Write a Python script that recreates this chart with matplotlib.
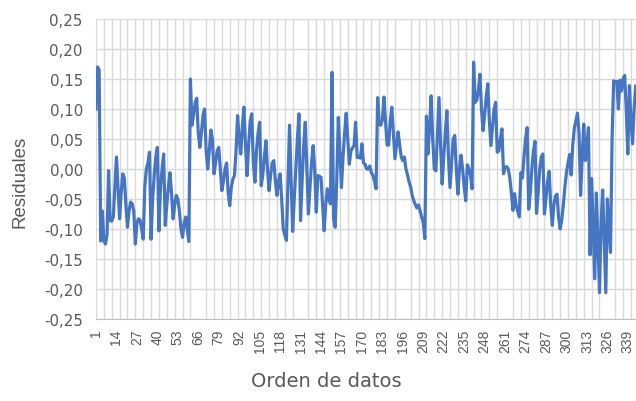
import numpy as np
import matplotlib.pyplot as plt

# residuales, orden 1..344
residuales = [
    0.10, 0.17, 0.165, -0.12, -0.07, -0.12, -0.125, -0.11, -0.003, -0.086,
    -0.087, -0.08, -0.03, 0.02, -0.03, -0.083, -0.04, -0.008, -0.015, -0.06,
    -0.097, -0.07, -0.055, -0.058, -0.07, -0.125, -0.09, -0.083, -0.085, -0.10,
    -0.117, -0.03, 0.00, 0.01, 0.028, -0.117, -0.05, -0.01, 0.02, 0.036,
    -0.103, -0.03, 0.0, 0.025, -0.094, -0.06, -0.03, -0.006, -0.04, -0.083,
    -0.06, -0.044, -0.05, -0.07, -0.10, -0.114, -0.09, -0.08, -0.10, -0.121,
    0.15, 0.073, 0.09, 0.11, 0.118, 0.06, 0.036, 0.06, 0.09, 0.10,
    0.03, 0.0, 0.03, 0.065, 0.05, -0.008, 0.01, 0.03, 0.036, 0.0,
    -0.036, -0.02, 0.0, 0.01, -0.04, -0.061, -0.03, -0.017, -0.011, 0.03,
    0.089, 0.05, 0.025, 0.07, 0.103, 0.04, -0.011, 0.04, 0.08, 0.092,
    0.01, -0.022, 0.03, 0.06, 0.078, -0.028, -0.01, 0.02, 0.047, 0.0,
    -0.036, -0.01, 0.01, 0.014, -0.02, -0.044, -0.02, -0.008, -0.05, -0.10,
    -0.11, -0.119, -0.02, 0.073, -0.02, -0.104, -0.05, 0.0, 0.05, 0.092,
    -0.086, -0.02, 0.04, 0.078, 0.0, -0.075, -0.03, 0.01, 0.039, 0.0,
    -0.072, -0.011, -0.012, -0.014, -0.06, -0.103, -0.06, -0.033, -0.05, -0.058,
    0.161, -0.083, -0.097, -0.02, 0.086, 0.03, -0.031, 0.02, 0.06, 0.093,
    0.05, 0.008, 0.03, 0.035, 0.039, 0.078, 0.019, 0.02, 0.018, 0.042,
    0.01, 0.008, 0.0, 0.0, 0.005, -0.006, -0.011, -0.02, -0.033, 0.119,
    0.075, 0.073, 0.082, 0.12, 0.08, 0.04, 0.04, 0.08, 0.103, 0.06,
    0.017, 0.04, 0.062, 0.04, 0.02, 0.014, 0.02, 0.0, -0.01, -0.022,
    -0.03, -0.045, -0.053, -0.06, -0.065, -0.06, -0.07, -0.08, -0.09, -0.116,
    0.088, 0.025, 0.07, 0.122, 0.05, 0.0, -0.003, 0.06, 0.119, 0.04,
    -0.025, 0.02, 0.06, 0.097, 0.02, -0.031, 0.01, 0.05, 0.056, 0.0,
    -0.042, 0.0, 0.023, 0.0, -0.03, -0.053, 0.007, 0.0, -0.01, -0.033,
    0.178, 0.111, 0.115, 0.13, 0.158, 0.10, 0.064, 0.09, 0.12, 0.142,
    0.08, 0.039, 0.07, 0.10, 0.111, 0.028, 0.03, 0.05, 0.067, -0.008,
    0.003, 0.004, 0.0, -0.015, -0.04, -0.069, -0.041, -0.06, -0.07, -0.08,
    -0.006, -0.015, 0.02, 0.05, 0.069, -0.067, -0.04, 0.0, 0.03, 0.046,
    -0.074, -0.04, 0.0, 0.02, 0.025, -0.075, -0.05, -0.02, -0.004, -0.06,
    -0.094, -0.06, -0.045, -0.042, -0.08, -0.10, -0.085, -0.06, -0.03, -0.006,
    0.01, 0.024, -0.01, 0.04, 0.068, 0.08, 0.093, 0.06, -0.044, 0.02,
    0.075, 0.014, 0.04, 0.069, -0.143, -0.016, -0.10, -0.183, -0.04, -0.12,
    -0.206, -0.09, -0.035, -0.12, -0.206, -0.05, -0.10, -0.139, 0.05, 0.147,
    0.145, 0.146, 0.10, 0.148, 0.13, 0.15, 0.156, 0.10, 0.025, 0.139,
    0.08, 0.042, 0.10, 0.138,
]
orden = list(range(1, len(residuales) + 1))

x_ticks = list(range(1, 340, 13))
y_ticks = [-0.25, -0.20, -0.15, -0.10, -0.05, 0.0, 0.05, 0.10, 0.15, 0.20, 0.25]

plt.rcParams['font.family'] = ['Liberation Sans', 'DejaVu Sans']
gray_txt = '#595959'
grid_c = '#D9D9D9'

W, H = 636, 402
fig = plt.figure(figsize=(W / 100, H / 100), dpi=100)
ax = fig.add_axes([96 / W, 82 / H, 540 / W, 300 / H])

ax.plot(orden, residuales, color='#4676C2', lw=2.3, solid_joinstyle='round', zorder=3)

ax.set_xlim(1, 344.2)
ax.set_ylim(-0.25, 0.25)

ax.set_xticks(x_ticks)
ax.set_xticklabels([str(t) for t in x_ticks], rotation=90, fontsize=10, color=gray_txt)
ax.set_xticks(list(range(1, 345, 5)), minor=True)
ax.set_yticks(y_ticks)
ax.set_yticklabels(['{:.2f}'.format(v).replace('.', ',') for v in y_ticks],
                   fontsize=10.8, color=gray_txt, family='DejaVu Sans')
ax.tick_params(axis='both', which='both', length=0)
ax.tick_params(axis='x', pad=7)
ax.tick_params(axis='y', pad=9.5)

ax.grid(which='minor', axis='x', color=grid_c, lw=1)
ax.grid(which='major', axis='y', color=grid_c, lw=1)
ax.grid(which='major', axis='x', visible=False)

ax.spines['right'].set_visible(False)
for s in ['left', 'top']:
    ax.spines[s].set_color(grid_c)
ax.spines['bottom'].set_color('#BFBFBF')

fig.text(20 / W, 1 - 182 / H, 'Residuales', rotation=90, ha='center', va='center',
         fontsize=13.5, color=gray_txt)
fig.text(326 / W, 1 - 382 / H, 'Orden de datos', ha='center', va='center',
         fontsize=14, color=gray_txt, family='DejaVu Sans')

fig.savefig('out.png', dpi=100)
